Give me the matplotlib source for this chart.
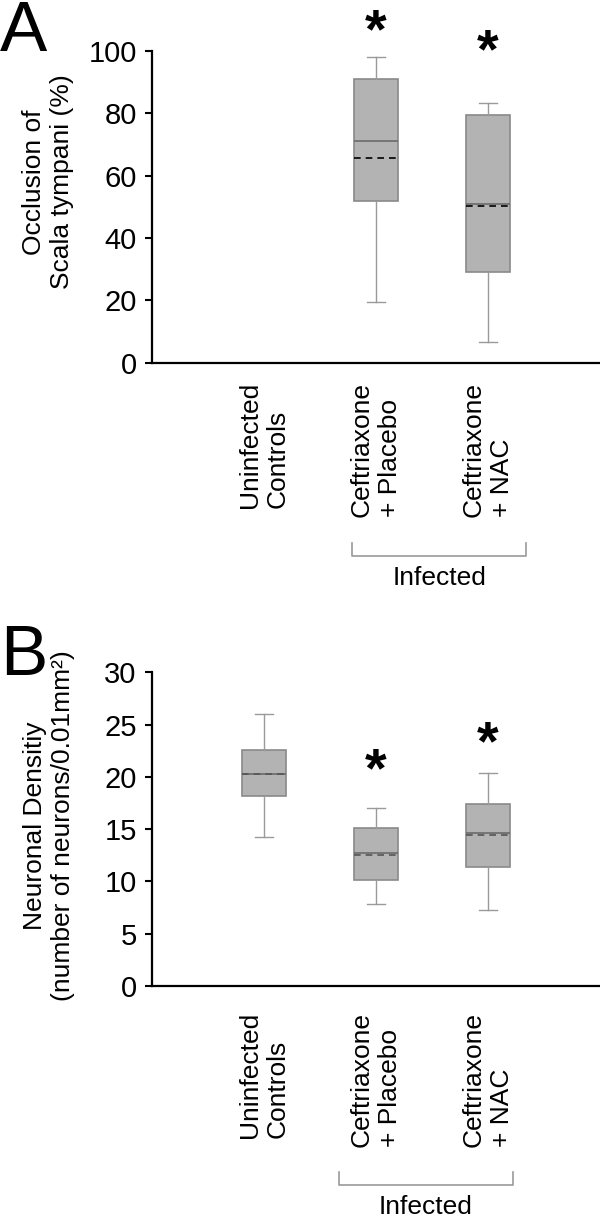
import matplotlib
matplotlib.use("Agg")
import matplotlib.pyplot as plt

plt.rcParams['font.family'] = ['Liberation Sans', 'DejaVu Sans']

categories = ["Uninfected\nControls", "Ceftriaxone\n+ Placebo", "Ceftriaxone\n+ NAC"]
positions = [1, 2, 3]

# panel A: occlusion of scala tympani (%), no box for uninfected controls
a_pos = [2, 3]
a_whislo = [19.5, 6.5]
a_q1 = [52.0, 29.0]
a_med = [71.0, 51.0]
a_mean = [65.6, 50.2]
a_q3 = [90.9, 79.4]
a_whishi = [98.0, 83.2]
a_star = [105.8, 99.2]

# panel B: neuronal density
b_pos = [1, 2, 3]
b_whislo = [14.2, 7.8, 7.3]
b_q1 = [18.2, 10.15, 11.35]
b_med = [20.3, 12.7, 14.6]
b_mean = [20.25, 12.55, 14.4]
b_q3 = [22.6, 15.07, 17.4]
b_whishi = [26.05, 17.05, 20.4]
b_star_pos = [2, 3]
b_star = [20.4, 23.0]

box_fill = "#b3b3b3"
box_edge = "#8a8a8a"
whisk_col = "#9a9a9a"


def make_stats(whislo, q1, med, mean, q3, whishi):
    stats = []
    for i in range(len(med)):
        stats.append(dict(whislo=whislo[i], q1=q1[i], med=med[i], mean=mean[i],
                          q3=q3[i], whishi=whishi[i], fliers=[]))
    return stats


def style_axes(ax, ylim, yticks, pad):
    ax.set_xlim(0, 4)
    ax.set_ylim(*ylim)
    ax.set_yticks(yticks)
    for s in ["top", "right"]:
        ax.spines[s].set_visible(False)
    for s in ["left", "bottom"]:
        ax.spines[s].set_linewidth(1.6)
    ax.tick_params(axis="y", labelsize=21, length=5, width=1.5, pad=6)
    ax.set_xticks(positions)
    ax.set_xticklabels(categories, rotation=90, fontsize=19)
    ax.tick_params(axis="x", length=0, pad=pad)
    for lab in ax.get_xticklabels():
        lab.set_multialignment("left")


def draw_boxes(ax, stats, pos, mean_col):
    ax.bxp(stats, positions=pos, widths=0.4, patch_artist=True, showfliers=False,
           showmeans=True, meanline=True,
           boxprops=dict(facecolor=box_fill, edgecolor=box_edge, linewidth=1.2),
           whiskerprops=dict(color=whisk_col, linewidth=1.0),
           capprops=dict(color=whisk_col, linewidth=1.0),
           capwidths=0.16,
           medianprops=dict(color="#6a6a6a", linewidth=1.2),
           meanprops=dict(color=mean_col, linestyle=(0, (4, 3)), linewidth=1.2))


def draw_bracket(ax, x0, x1, ytop, ybot, ytext):
    tr = ax.get_xaxis_transform()
    ax.plot([x0, x0, x1, x1], [ytop, ybot, ybot, ytop], color="#999999",
            linewidth=1.2, transform=tr, clip_on=False)
    ax.text((x0 + x1) / 2, ytext, "Infected", transform=tr, ha="center",
            va="center", fontsize=19)


fig = plt.figure(figsize=(6, 12.17), dpi=100)
axA = fig.add_axes([0.2533, 0.702, 0.7467, 0.256])
axB = fig.add_axes([0.2533, 0.19, 0.7467, 0.2575])

# panel A
draw_boxes(axA, make_stats(a_whislo, a_q1, a_med, a_mean, a_q3, a_whishi), a_pos, "black")
style_axes(axA, (0, 100), range(0, 101, 20), 14)
for x, y in zip(a_pos, a_star):
    axA.text(x, y, "*", ha="center", va="center", fontsize=40, fontweight="bold", clip_on=False)
axA.set_ylabel("Occlusion of\nScala tympani (%)", fontsize=19)
axA.yaxis.set_label_coords(-0.175, 0.58)
draw_bracket(axA, 1.79, 3.34, -0.58, -0.622, -0.692)

# panel B
draw_boxes(axB, make_stats(b_whislo, b_q1, b_med, b_mean, b_q3, b_whishi), b_pos, "#555555")
style_axes(axB, (0, 30), range(0, 31, 5), 19)
for x, y in zip(b_star_pos, b_star):
    axB.text(x, y, "*", ha="center", va="center", fontsize=40, fontweight="bold", clip_on=False)
axB.set_ylabel("Neuronal Densitiy\n(number of neurons/0.01mm²)", fontsize=19)
axB.yaxis.set_label_coords(-0.172, 0.51)
draw_bracket(axB, 1.67, 3.22, -0.594, -0.635, -0.705)

fig.text(0.0, 1.0, "A", fontsize=51, ha="left", va="top")
fig.text(0.0, 0.487, "B", fontsize=51, ha="left", va="top")

fig.savefig("out.png", dpi=100)
